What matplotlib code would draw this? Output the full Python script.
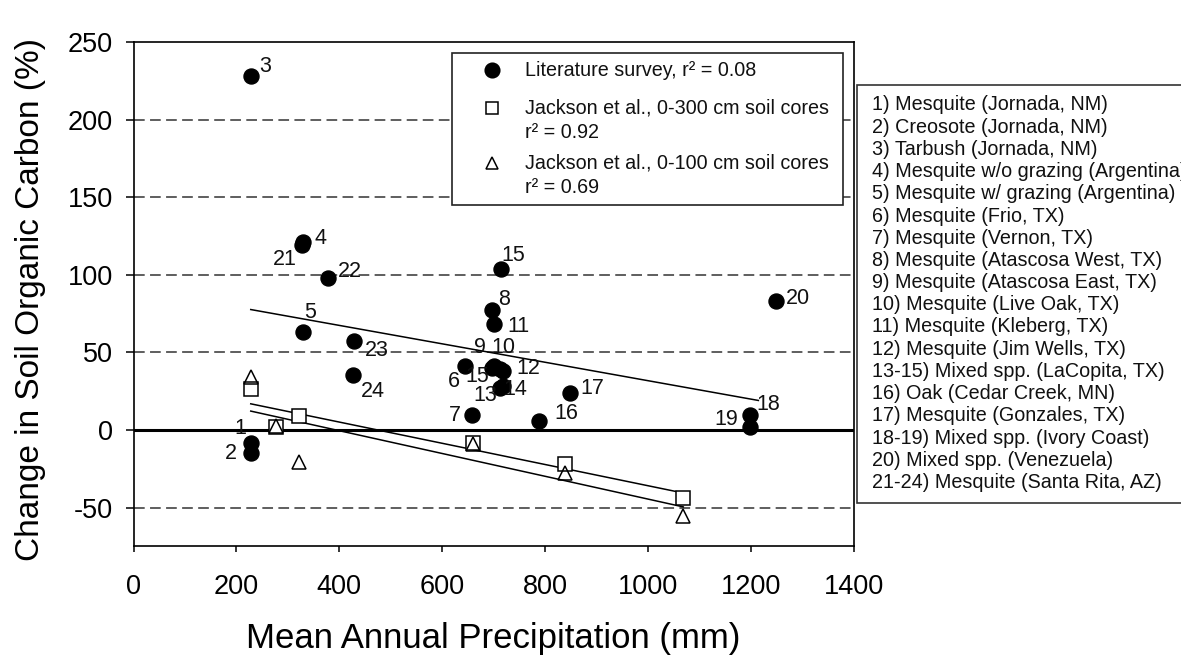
import numpy as np
import matplotlib
matplotlib.use("Agg")
import matplotlib.pyplot as plt
from matplotlib.lines import Line2D
from matplotlib.patches import Rectangle

plt.rcParams['font.family'] = ['Liberation Sans', 'DejaVu Sans']
plt.rcParams['axes.unicode_minus'] = False

# ---- Literature survey sites (mean annual precipitation, % change in SOC) ----
lit_labels = ['1', '2', '3', '4', '5', '6', '7', '8', '9', '10', '11', '12',
              '13', '14', '15', '15', '16', '17', '18', '19', '20', '21', '22', '23', '24']
lit_map = [228, 228, 228, 329, 329, 645, 658, 698, 701, 712, 700, 718,
           713, 718, 714, 697, 789, 849, 1199, 1199, 1250, 328, 379, 429, 427]
lit_soc = [-8.6, -15, 228, 121, 63.3, 41.4, 9.5, 77.3, 41.5, 39.6, 68, 37.7,
           27, 28.4, 103.5, 40, 6, 23.6, 9.7, 2, 83, 119.5, 98, 57.3, 35.4]

# ---- Jackson et al. transect ----
jack_map = [228, 277, 321, 660, 839, 1069]
jack_300 = [26.2, 2.1, 9.0, -8.6, -21.9, -44.0]
jack_100 = [34.3, 2.5, -20.4, -9.0, -27.5, -55.5]

legend_rows = ["Literature survey, r\u00b2 = 0.08",
               "Jackson et al., 0-300 cm soil cores", "r\u00b2 = 0.92",
               "Jackson et al., 0-100 cm soil cores", "r\u00b2 = 0.69"]

site_list = ["1) Mesquite (Jornada, NM)",
             "2) Creosote (Jornada, NM)",
             "3) Tarbush (Jornada, NM)",
             "4) Mesquite w/o grazing (Argentina)",
             "5) Mesquite w/ grazing (Argentina)",
             "6) Mesquite (Frio, TX)",
             "7) Mesquite (Vernon, TX)",
             "8) Mesquite (Atascosa West, TX)",
             "9) Mesquite (Atascosa East, TX)",
             "10) Mesquite (Live Oak, TX)",
             "11) Mesquite (Kleberg, TX)",
             "12) Mesquite (Jim Wells, TX)",
             "13-15) Mixed spp. (LaCopita, TX)",
             "16) Oak (Cedar Creek, MN)",
             "17) Mesquite (Gonzales, TX)",
             "18-19) Mixed spp. (Ivory Coast)",
             "20) Mixed spp. (Venezuela)",
             "21-24) Mesquite (Santa Rita, AZ)"]

# label offsets (pixels) for the site numbers
label_offsets = [(-10, 15), (-20, 0), (14, 10), (18, 4), (7, 19), (-11, -16), (-17, 0),
                 (12, 11), (-14, 18), (4, 21), (25, -2), (26, 3), (-15, -7), (13, -4),
                 (13, 14), (-15, -9), (27, 7), (22, 5), (18, 10), (-24, 7), (22, 3),
                 (-17, -15), (21, 6), (23, -9), (20, -16)]

lit_fit_span = (228, 1215)

W, H = 1181, 655
fig = plt.figure(figsize=(W / 100, H / 100), dpi=100)
fig.patch.set_facecolor('white')


def fx(px):
    return px / W


def fy(py):
    return 1 - py / H


ax = fig.add_axes([fx(133.5), fy(546.4), (853.5 - 133.5) / W, (546.4 - 42) / H])
ax.set_xlim(0, 1400)
ax.set_ylim(-75, 250)

# reference lines
for yv in [200, 150, 100, 50, -50]:
    ax.axhline(yv, color='#333333', lw=1.1, ls=(0, (7, 3.5)), zorder=1)
ax.axhline(0, color='black', lw=2.2, zorder=2)

# regression lines
lx = np.array(lit_map, float)
ly = np.array(lit_soc, float)
m, b = np.polyfit(lx, ly, 1)
xs = np.array(lit_fit_span)
ax.plot(xs, m * xs + b, color='black', lw=1.1, zorder=2)

jx = np.array(jack_map, float)
for ys in (jack_300, jack_100):
    m2, b2 = np.polyfit(jx, np.array(ys, float), 1)
    xs2 = np.array([jx.min(), jx.max()])
    ax.plot(xs2, m2 * xs2 + b2, color='black', lw=1.1, zorder=2)

# markers
ax.plot(lit_map, lit_soc, 'o', ms=10.8, color='black', zorder=4, clip_on=False)
ax.plot(jack_map, jack_300, 's', ms=9.4, mfc='white', mec='black', mew=1.1, zorder=4)
ax.plot(jack_map, jack_100, '^', ms=9.4, mfc='none', mec='black', mew=1.1, zorder=5)

for lab, xv, yv, (dx, dy) in zip(lit_labels, lit_map, lit_soc, label_offsets):
    ax.annotate(lab, (xv, yv), xytext=(dx, dy), textcoords='offset pixels',
                ha='center', va='center', fontsize=15.5, color='#111111', zorder=6)

# axes styling
for s in ax.spines.values():
    s.set_linewidth(1.2)
ax.set_xticks(np.arange(0, 1401, 200))
ax.set_yticks(np.arange(-50, 251, 50))
ax.tick_params(axis='y', direction='out', length=6, width=1.1, labelsize=19.5, pad=9)
ax.tick_params(axis='x', direction='out', length=4, width=1.1, labelsize=19.5, pad=16)
ax.set_xlabel("Mean Annual Precipitation (mm)", fontsize=25)
ax.set_ylabel("Change in Soil Organic Carbon (%)", fontsize=24)
ax.xaxis.set_label_coords(0.5, -0.15)
ax.yaxis.set_label_coords(-0.122, 0.49)

# legend panel
fig.add_artist(Rectangle((fx(452), fy(205)), (843 - 452) / W, (205 - 53) / H,
                         transform=fig.transFigure, facecolor='white', edgecolor='#222222',
                         lw=1.2, zorder=5))
handle_specs = [('o', 'black', 10.5, 70), ('s', 'white', 9.0, 108), ('^', 'white', 9.0, 163)]
for mk, fc, ms, py in handle_specs:
    fig.add_artist(Line2D([fx(492)], [fy(py)], marker=mk, ms=ms, mfc=fc, mec='black',
                          mew=1.1, ls='none', transform=fig.transFigure, zorder=6))
for txt, py in zip(legend_rows, [70, 108, 132, 163, 187]):
    fig.text(fx(525), fy(py), txt, ha='left', va='center', fontsize=14.2,
             color='#111111', zorder=6)

# site list panel
fig.add_artist(Rectangle((fx(857), fy(503)), (1200 - 857) / W, (503 - 85) / H,
                         transform=fig.transFigure, facecolor='white', edgecolor='#333333',
                         lw=1.2, zorder=5, clip_on=False))
for i, txt in enumerate(site_list):
    fig.text(fx(872), fy(105 + i * 22.2), txt, ha='left', va='center', fontsize=14.2,
             color='#111111', zorder=6)

fig.savefig("out.png", dpi=100)
